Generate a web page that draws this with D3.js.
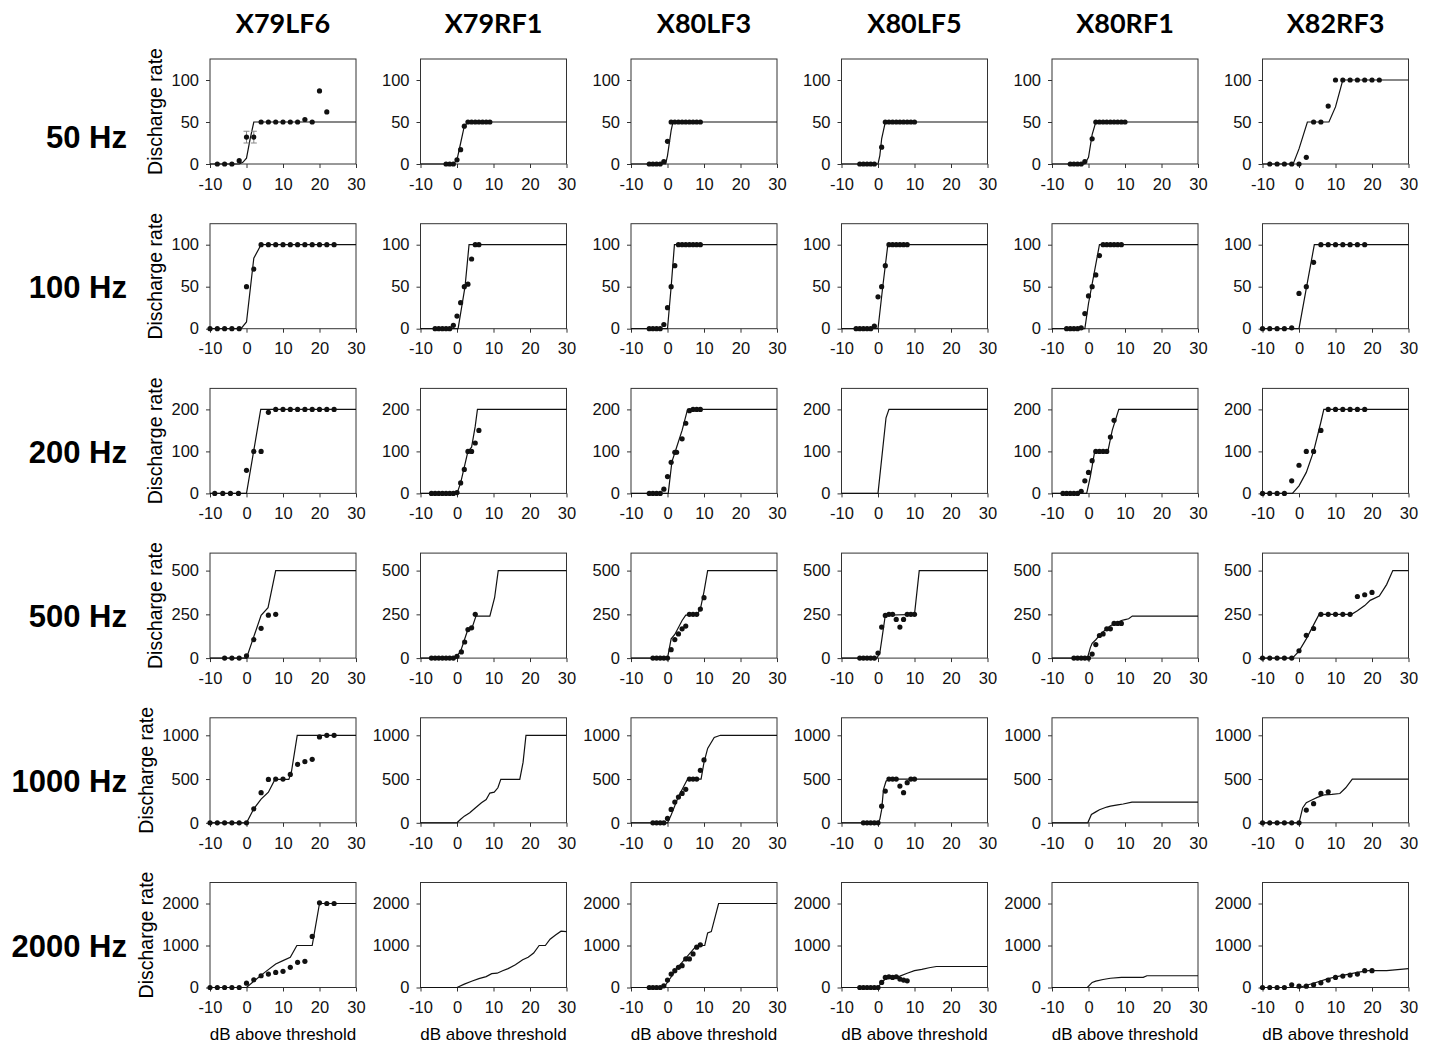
<!DOCTYPE html>
<html>
<head>
<meta charset="utf-8">
<script src="https://cdn.jsdelivr.net/npm/d3@7"></script>
<style>
  body { margin: 0; background: #fff; }
  .tick text { font-family: "Liberation Sans", Arial, sans-serif; font-size: 16.5px; fill: #111; }
  .tick line { stroke: #333; }
</style>
</head>
<body>
<div id="chart"></div>
<script>
const units = ["X79LF6", "X79RF1", "X80LF3", "X80LF5", "X80RF1", "X82RF3"];
const freqs = ["50 Hz", "100 Hz", "200 Hz", "500 Hz", "1000 Hz", "2000 Hz"];
const yMax = [125, 125, 250, 600, 1200, 2500];
const yTicks = [[0, 50, 100], [0, 50, 100], [0, 100, 200], [0, 250, 500], [0, 500, 1000], [0, 1000, 2000]];
const xTicks = [-10, 0, 10, 20, 30];

// model fits, one per unit  [dB, rate]
const fit50 = [
  [[-10, 0], [-2, 0], [-1, 2], [0, 7], [1, 30], [2, 50], [30, 50]],
  [[-10, 0], [-1, 0], [0, 5], [1, 25], [2, 45], [3, 50], [30, 50]],
  [[-10, 0], [-0.5, 0], [0, 10], [1, 40], [1.5, 50], [30, 50]],
  [[-10, 0], [0, 0], [0.5, 10], [1, 30], [2, 50], [30, 50]],
  [[-10, 0], [-1, 0], [0, 8], [1, 35], [2, 50], [30, 50]],
  [[-10, 0], [-1.6, 0], [0, 18], [2.3, 50], [8.2, 50], [10, 68], [12, 100], [30, 100]]
];
const fit100 = [
  [[-10, 0], [-1.5, 0], [0, 8], [2, 84], [4, 100], [30, 100]],
  [[-10, 0], [0.3, 0], [2.2, 50], [3.3, 100], [30, 100]],
  [[-10, 0], [0, 0], [1, 50], [1.9, 100], [30, 100]],
  [[-10, 0], [0, 0], [1.3, 50], [2.7, 100], [30, 100]],
  [[-10, 0], [-1, 0], [0, 30], [1.5, 65], [3, 100], [30, 100]],
  [[-10, 0], [0, 0], [2, 48], [4.2, 100], [30, 100]]
];
const fit200 = [
  [[-10, 0], [0, 0], [3.9, 200], [30, 200]],
  [[-10, 0], [0, 0], [1, 25], [3, 100], [4, 110], [5, 160], [5.6, 200], [30, 200]],
  [[-10, 0], [0.2, 0], [1.2, 75], [2.5, 110], [4, 150], [5.5, 200], [30, 200]],
  [[-10, 0], [0, 0], [2.2, 180], [3, 200], [30, 200]],
  [[-10, 0], [-0.5, 0], [0.5, 40], [1.7, 100], [5.3, 100], [6.5, 150], [8.3, 200], [30, 200]],
  [[-10, 0], [-1.8, 0], [0, 18], [2, 50], [4, 100], [6, 170], [6.8, 200], [30, 200]]
];
const fit500 = [
  [[-10, 0], [0, 0], [4, 245], [5.9, 288], [8, 500], [30, 500]],
  [[-10, 0], [-0.5, 0], [1, 40], [3, 165], [4, 165], [5.2, 240], [9, 240], [10.3, 345], [11.3, 500], [30, 500]],
  [[-10, 0], [0, 0], [1, 110], [2, 135], [4, 215], [5, 245], [8, 245], [9, 280], [10, 380], [11, 500], [30, 500]],
  [[-10, 0], [-0.3, 0], [0.5, 30], [1, 100], [2, 245], [10, 250], [11.3, 500], [30, 500]],
  [[-10, 0], [-0.3, 0], [0.5, 60], [1, 85], [2, 105], [3, 130], [4, 150], [5, 170], [6, 185], [7, 195], [8, 205], [9, 215], [10, 220], [11, 225], [12, 240], [30, 240]],
  [[-10, 0], [-1.8, 0], [0, 40], [2, 110], [4, 190], [5.5, 250], [14.4, 250], [16, 270], [18, 300], [19.5, 330], [22, 355], [24, 420], [25.7, 500], [30, 500]]
];
const fit1000 = [
  [[-10, 0], [0, 0], [2, 160], [4, 270], [6, 350], [7.8, 496], [11.6, 496], [12.3, 580], [13.9, 1000], [30, 1000]],
  [[-10, 0], [0, 0], [1, 40], [2, 76], [3.5, 115], [5, 170], [6.7, 230], [8, 265], [9, 340], [10.2, 350], [11.2, 400], [12, 496], [17.2, 496], [18.1, 690], [18.9, 1000], [30, 1000]],
  [[-10, 0], [0, 0], [1, 90], [3, 300], [5.5, 500], [9.2, 500], [10, 690], [11, 850], [12.8, 975], [14.5, 1000], [30, 1000]],
  [[-10, 0], [0, 0], [0.5, 40], [1, 150], [1.5, 380], [2.2, 475], [3, 500], [30, 500]],
  [[-10, 0], [-0.2, 0], [0.8, 95], [2, 125], [3, 150], [5, 180], [6, 190], [8, 205], [9.5, 215], [11.9, 237], [30, 237]],
  [[-10, 0], [0, 0], [1, 170], [2, 230], [3.5, 260], [5, 290], [7, 320], [9, 325], [11.2, 335], [12.8, 400], [14.6, 500], [30, 500]]
];
const fit2000 = [
  [[-10, 0], [0, 0], [2, 150], [5, 360], [8, 560], [10, 640], [12, 720], [13.8, 1000], [18, 1000], [18.8, 1400], [20, 2000], [30, 2000]],
  [[-10, 0], [0, 0], [2, 80], [4, 150], [6, 210], [8, 260], [9.5, 330], [11, 340], [12.5, 400], [14, 450], [16, 540], [18, 660], [19.5, 720], [21, 820], [22.5, 1000], [24.2, 1000], [25.5, 1150], [27, 1250], [28.5, 1340], [30, 1330]],
  [[-10, 0], [-1, 0], [1, 250], [3, 500], [5, 700], [7, 900], [8, 1000], [10.2, 1000], [11, 1300], [12, 1330], [14, 2000], [30, 2000]],
  [[-10, 0], [0, 0], [1, 120], [2, 200], [4, 230], [6, 270], [8, 340], [10, 400], [12, 430], [14, 470], [16, 500], [30, 500]],
  [[-10, 0], [-0.3, 0], [1, 120], [2, 150], [4, 190], [6, 220], [9, 240], [15, 240], [16, 280], [30, 280]],
  [[-10, 0], [0, 0], [4, 100], [8, 210], [12, 290], [16, 360], [19, 400], [24, 400], [30, 450]]
];

// measured discharge rates  [dB, rate, sem]
const obs50 = [
  [[-8, 0], [-6, 0], [-4, 0], [-2, 4], [0, 32, 7], [2, 32, 7], [4, 50], [6, 50], [8, 50], [10, 50], [12, 50], [14, 50], [16, 53], [18, 50], [20, 87], [22, 62]],
  [[-3, 0], [-2, 0], [-1, 0], [0, 5], [1, 17], [2, 45], [3, 50], [4, 50], [5, 50], [6, 50], [7, 50], [8, 50], [9, 50]],
  [[-5, 0], [-4, 0], [-3, 0], [-2, 0], [-1, 3], [0, 27], [1, 50], [2, 50], [3, 50], [4, 50], [5, 50], [6, 50], [7, 50], [8, 50], [9, 50]],
  [[-5, 0], [-4, 0], [-3, 0], [-2, 0], [-1, 0], [1, 20], [2, 50], [3, 50], [4, 50], [5, 50], [6, 50], [7, 50], [8, 50], [9, 50], [10, 50]],
  [[-5, 0], [-4, 0], [-3, 0], [-2, 0], [-1, 3], [1, 30], [2, 50], [3, 50], [4, 50], [5, 50], [6, 50], [7, 50], [8, 50], [9, 50], [10, 50]],
  [[-8, 0], [-6, 0], [-4, 0], [-2, 0], [0, 0], [2, 8], [4, 50], [6, 50], [8, 69], [10, 100], [12, 100], [14, 100], [16, 100], [18, 100], [20, 100], [22, 100]]
];
const obs100 = [
  [[-10, 0], [-8, 0], [-6, 0], [-4, 0], [-2, 0], [0, 50], [2, 71], [4, 100], [6, 100], [8, 100], [10, 100], [12, 100], [14, 100], [16, 100], [18, 100], [20, 100], [22, 100], [24, 100]],
  [[-6, 0], [-5, 0], [-4, 0], [-3, 0], [-2, 0], [-1, 4], [0, 15], [1, 31], [2, 50], [3, 53], [4, 83], [5, 100], [6, 100]],
  [[-5, 0], [-4, 0], [-3, 0], [-2, 0], [-1, 5], [0, 25], [1, 50], [2, 75], [3, 100], [4, 100], [5, 100], [6, 100], [7, 100], [8, 100], [9, 100]],
  [[-6, 0], [-5, 0], [-4, 0], [-3, 0], [-2, 0], [-1, 3], [0, 38], [1, 50], [2, 75], [3, 100], [4, 100], [5, 100], [6, 100], [7, 100], [8, 100]],
  [[-6, 0], [-5, 0], [-4, 0], [-3, 0], [-2, 1], [-1, 18], [0, 39], [1, 50], [2, 64], [3, 87], [4, 100], [5, 100], [6, 100], [7, 100], [8, 100], [9, 100]],
  [[-10, 0], [-8, 0], [-6, 0], [-4, 0], [-2, 1], [0, 42], [2, 50], [4, 79], [6, 100], [8, 100], [10, 100], [12, 100], [14, 100], [16, 100], [18, 100]]
];
const obs200 = [
  [[-8.7, 0], [-6.5, 0], [-4.4, 0], [-2.2, 0], [0, 55], [2, 100], [4, 100], [6, 193], [8, 200], [10, 200], [12, 200], [14, 200], [16, 200], [18, 200], [20, 200], [22, 200], [24, 200]],
  [[-7, 0], [-6, 0], [-5, 0], [-4, 0], [-3, 0], [-2, 0], [-1, 0], [0, 2], [1, 25], [2, 57], [3, 100], [4, 100], [5, 120], [6, 150]],
  [[-5, 0], [-4, 0], [-3, 0], [-2, 0], [-1, 10], [0, 40], [1, 74], [2, 98], [2.5, 98], [4, 130], [5, 167], [6, 197], [7, 200], [8, 200], [9, 200]],
  [],
  [[-7, 0], [-6, 0], [-5, 0], [-4, 0], [-3, 0], [-2, 5], [-1, 30], [0, 50], [1, 78], [2, 100], [3, 100], [4, 100], [5, 100], [6, 134], [7, 174]],
  [[-10, 0], [-8, 0], [-6, 0], [-4, 0], [-2, 30], [0, 67], [2, 100], [4, 100], [6, 150], [8, 200], [10, 200], [12, 200], [14, 200], [16, 200], [18, 200]]
];
const obs500 = [
  [[-6, 0], [-4, 0], [-2, 0], [0, 13], [2, 106], [4, 170], [6, 245], [8, 250]],
  [[-7, 0], [-6, 0], [-5, 0], [-4, 0], [-3, 0], [-2, 0], [-1, 0], [0, 10], [1.2, 35], [2.1, 92], [3, 163], [4, 173], [5, 250]],
  [[-4, 0], [-3, 0], [-2, 0], [-1, 0], [0, 0], [1, 48], [2, 106], [3, 138], [4, 167], [5, 183], [6, 250], [7, 250], [8, 250], [9, 280], [10, 345]],
  [[-5, 0], [-4, 0], [-3, 0], [-2, 0], [-1, 0], [0, 29], [1, 177], [2, 244], [3, 250], [4, 250], [5, 221], [6, 177], [7, 221], [8, 250], [9, 250], [10, 250]],
  [[-4, 0], [-3, 0], [-2, 0], [-1, 0], [0, 0], [1, 23], [2, 77], [3, 129], [4, 138], [5, 167], [6, 167], [7, 198], [8, 198], [9, 198]],
  [[-10, 0], [-8, 0], [-6, 0], [-4, 0], [-2, 0], [0, 42], [2, 130], [4, 169], [6, 250], [8, 250], [10, 250], [12, 250], [14, 250], [16, 352], [18, 362], [20, 375]]
];
const obs1000 = [
  [[-10, 0], [-8, 0], [-6, 0], [-4, 0], [-2, 0], [0, 0], [2, 160], [4, 344], [6, 496], [8, 500], [10, 500], [12, 553], [14, 668], [16, 698], [18, 725], [20, 981], [22, 1000], [24, 1000]],
  [],
  [[-4, 0], [-3, 0], [-2, 0], [-1, 0], [0, 50], [1, 153], [2, 237], [3, 294], [4, 336], [5, 382], [6, 500], [7, 500], [8, 500], [9, 600], [10, 718]],
  [[-4, 0], [-3, 0], [-2, 0], [-1, 0], [0, 0], [1, 190], [2, 363], [3, 500], [4, 500], [5, 500], [6, 420], [7, 344], [8, 458], [9, 500], [10, 500]],
  [],
  [[-10, 0], [-8, 0], [-6, 0], [-4, 0], [-2, 0], [0, 0], [2, 145], [4, 218], [6, 336], [8, 355]]
];
const obs2000 = [
  [[-10, 0], [-8, 0], [-6, 0], [-4, 0], [-2, 0], [0, 104], [2, 184], [4, 280], [6, 320], [8, 360], [10, 384], [12, 480], [14, 600], [16, 624], [18, 1216], [20, 2016], [22, 2000], [24, 2000]],
  [],
  [[-5, 0], [-4, 0], [-3, 0], [-2, 0], [-1, 40], [0, 176], [1, 320], [2, 400], [3, 480], [4, 520], [5, 680], [6, 680], [7, 800], [8, 960], [9, 1016]],
  [[-5, 0], [-4, 0], [-3, 0], [-2, 0], [-1, 0], [0, 0], [1, 120], [2, 240], [3, 256], [4, 240], [5, 256], [6, 200], [7, 176], [8, 160]],
  [],
  [[-10, 0], [-8, 0], [-6, 0], [-4, 0], [-2, 64], [0, 32], [2, 32], [4, 64], [6, 112], [8, 176], [10, 240], [12, 272], [14, 296], [16, 320], [18, 400], [20, 400]]
];

const fits = [fit50, fit100, fit200, fit500, fit1000, fit2000];
const obs = [obs50, obs100, obs200, obs500, obs1000, obs2000];

// LAYOUT
const WIDTH = 1437, HEIGHT = 1048;
const PANEL = { LEFT: 210, TOP: 59, W: 146, H: 105, DX: 210.5, DY: 164.7 };
const FONT = '"Liberation Sans", Arial, sans-serif';

const svg = d3
  .select("#chart")
  .append("svg")
  .attr("width", WIDTH)
  .attr("height", HEIGHT);

const x = d3.scaleLinear().domain([-10, 30]).range([0, PANEL.W]);
const plain = (d) => String(d); // hyphen minus, no thousands comma

// COLUMN TITLES
svg
  .selectAll(".colTitle")
  .data(units)
  .join("text")
  .attr("class", "colTitle")
  .attr("x", (d, i) => PANEL.LEFT + i * PANEL.DX + PANEL.W / 2)
  .attr("y", 33)
  .attr("text-anchor", "middle")
  .attr("font-family", "Lato, 'Open Sans', sans-serif")
  .attr("font-weight", 700)
  .attr("font-size", "27px")
  .text((d) => d);

freqs.forEach((freq, r) => {
  const top = PANEL.TOP + r * PANEL.DY;
  const y = d3.scaleLinear().domain([0, yMax[r]]).range([PANEL.H, 0]);

  // ROW LABEL
  svg
    .append("text")
    .attr("x", 127)
    .attr("y", top + (r === 0 ? 78 : 63))
    .attr("dy", "0.36em")
    .attr("text-anchor", "end")
    .attr("font-family", FONT)
    .attr("font-weight", 700)
    .attr("font-size", "31px")
    .text(freq);

  units.forEach((unit, c) => {
    const g = svg
      .append("g")
      .attr("transform", `translate(${PANEL.LEFT + c * PANEL.DX}, ${top})`);

    // AXIS
    g.append("g")
      .attr("transform", `translate(0, ${PANEL.H})`)
      .call(d3.axisBottom(x).tickValues(xTicks).tickFormat(plain).tickSize(4).tickPadding(10))
      .call((a) => a.select(".domain").remove());
    const yAxisG = g.append("g")
      .call(d3.axisLeft(y).tickValues(yTicks[r]).tickFormat(plain).tickSize(4).tickPadding(7))
      .call((a) => a.select(".domain").remove());

    // Y LABEL (first column only, left of the widest tick label)
    if (c === 0) {
      const left = yAxisG.node().getBBox().x;
      g.append("text")
        .attr("transform", `translate(${left - 16}, ${PANEL.H / 2}) rotate(-90)`)
        .attr("dy", "0.35em")
        .attr("text-anchor", "middle")
        .attr("font-family", FONT)
        .attr("font-size", "19.5px")
        .text("Discharge rate");
    }

    // FRAME
    g.append("rect")
      .attr("width", PANEL.W)
      .attr("height", PANEL.H)
      .attr("fill", "none")
      .attr("stroke", "#333")
      .attr("stroke-width", 1);

    // FIT LINE
    g.append("path")
      .datum(fits[r][c])
      .attr("fill", "none")
      .attr("stroke", "#111")
      .attr("stroke-width", 1.2)
      .attr("d", d3.line().x((d) => x(d[0])).y((d) => y(d[1])));

    // ERROR BARS
    const withErr = obs[r][c].filter((d) => d[2]);
    g.selectAll(".err")
      .data(withErr)
      .join("path")
      .attr("class", "err")
      .attr("fill", "none")
      .attr("stroke", "#888")
      .attr("stroke-width", 1)
      .attr("d", (d) => {
        const cx = x(d[0]), y0 = y(d[1] - d[2]), y1 = y(d[1] + d[2]);
        return `M${cx},${y0}V${y1}M${cx - 3},${y0}H${cx + 3}M${cx - 3},${y1}H${cx + 3}`;
      });

    // DOTS
    g.selectAll("circle")
      .data(obs[r][c])
      .join("circle")
      .attr("cx", (d) => x(d[0]))
      .attr("cy", (d) => y(d[1]))
      .attr("r", 2.6)
      .attr("fill", "#111");

    // X LABEL
    if (r === freqs.length - 1) {
      g.append("text")
        .attr("x", PANEL.W / 2)
        .attr("y", PANEL.H + 52)
        .attr("text-anchor", "middle")
        .attr("font-family", FONT)
        .attr("font-size", "17px")
        .text("dB above threshold");
    }
  });
});
</script>
</body>
</html>
